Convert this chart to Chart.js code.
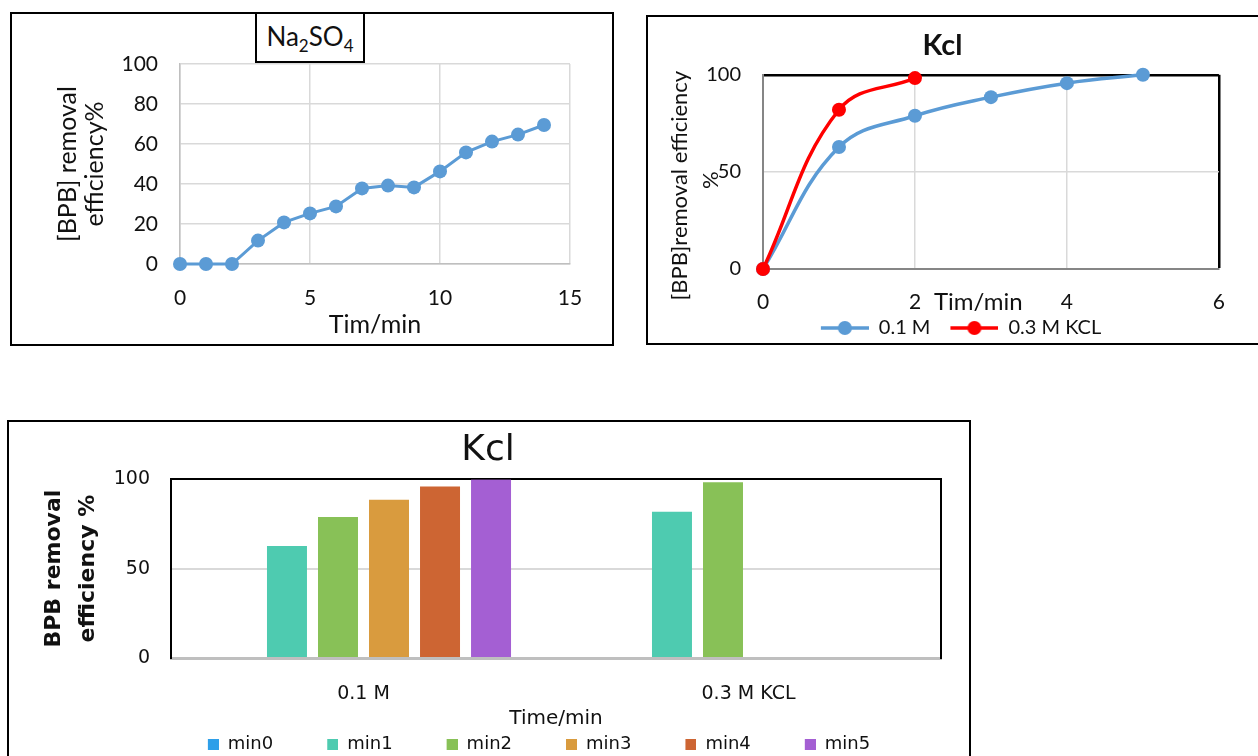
<!DOCTYPE html>
<html>
<head>
<meta charset="utf-8">
<script src="https://cdn.jsdelivr.net/npm/chart.js@4.4.1/dist/chart.umd.min.js"></script>
<style>
  html, body { margin: 0; padding: 0; background: #fff; }
  body { width: 1258px; height: 756px; overflow: hidden; position: relative; font-family: Lato, sans-serif; color: #111; }
  .box { position: absolute; border: 2px solid #000; box-sizing: border-box; overflow: hidden; background: #fff; }
  .inner { position: relative; }
  #box1 { left: 10px; top: 12px; width: 604px; height: 334px; }
  #box2 { left: 646px; top: 15px; width: 640px; height: 330px; }
  #box3 { left: 7px; top: 420px; width: 964px; height: 345px; }
  #title1 { position: absolute; left: 255px; top: 12px; width: 110px; height: 51px; border: 2px solid #000;
            box-sizing: border-box; background: #fff; font: 26px Lato; text-align: center; line-height: 44px; }
  #title1 sub { font-size: 17px; }
  #xlabel2 { position: absolute; left: 934px; top: 286px; font: 24px Lato; }
</style>
</head>
<body>
<div class="box" id="box1"><div class="inner" style="width:600px;height:330px"><canvas id="naChart"></canvas></div></div>
<div id="title1">Na<sub>2</sub>SO<sub>4</sub></div>
<div class="box" id="box2"><div class="inner" style="width:598px;height:326px"><canvas id="kclLineChart"></canvas></div></div>
<div id="xlabel2">Tim/min</div>
<div class="box" id="box3"><div class="inner" style="width:960px;height:341px"><canvas id="kclBarChart"></canvas></div></div>

<script>
// Na2SO4 run
const naTimes = [0, 1, 2, 3, 4, 5, 6, 7, 8, 9, 10, 11, 12, 13, 14];
const naRemoval = [0, 0, 0, 11.7, 20.8, 25.3, 28.8, 37.8, 39.2, 38.3, 46.3, 55.8, 61.2, 64.7, 69.5];

// KCl runs
const kcl01Times = [0, 1, 2, 3, 4, 5];
const kcl01Removal = [0, 62.8, 78.9, 88.5, 95.7, 100];
const kcl03Times = [0, 1, 2];
const kcl03Removal = [0, 82, 98.3];

// bar chart
const barGroups = ["0.1 M", "0.3 M KCL"];
const barSeries = ["min0", "min1", "min2", "min3", "min4", "min5"];
const barValues = [
    [0, 0],
    [62.6, 81.8],
    [78.9, 98.3],
    [88.5, null],
    [95.9, null],
    [99.8, null]];

const blue = "#5b9bd5";
const red = "#ff0000";
const barColors = ["#2e9fe9", "#4ecbb0", "#88c157", "#d99b3e", "#cd6533", "#a45fd3"];
const lightGrid = "#d9d9d9";

Chart.defaults.font.family = "Lato";
Chart.defaults.color = "#111";
Chart.defaults.animation = false;

// move the legend a bit after layout
Chart.register({
    id: "nudgeLegend",
    afterLayout(chart, args, opts) {
        const lg = chart.legend;
        if (!lg) return;
        const dx = opts.dx || 0, dy = opts.dy || 0;
        lg.left += dx; lg.right += dx;
        lg.top += dy; lg.bottom += dy;
    }
});

function pairs(xs, ys) {
    return xs.map((x, i) => ({x: x, y: ys[i]}));
}

// legend marks: transparent lead-in on the left, mark on the right
function lineSwatch(color, w) {
    const c = document.createElement("canvas");
    c.width = w; c.height = 16;
    const g = c.getContext("2d");
    g.strokeStyle = color; g.lineWidth = 3.5;
    g.beginPath(); g.moveTo(w - 48, 8); g.lineTo(w, 8); g.stroke();
    g.fillStyle = color;
    g.beginPath(); g.arc(w - 24, 8, 7, 0, Math.PI * 2); g.fill();
    return c;
}

function squareSwatch(color, w) {
    const c = document.createElement("canvas");
    c.width = w; c.height = 11;
    const g = c.getContext("2d");
    g.fillStyle = color;
    g.fillRect(w - 11, 0, 11, 11);
    return c;
}

createCharts();

function createCharts() {
    new Chart("naChart", {
        type: "line",
        data: {
            datasets: [{
                data: pairs(naTimes, naRemoval),
                borderColor: blue,
                backgroundColor: blue,
                borderWidth: 3,
                pointRadius: 7,
                pointBorderWidth: 0,
                tension: 0,
                clip: false
            }]
        },
        options: {
            responsive: true,
            maintainAspectRatio: false,
            layout: {padding: {left: 40, right: 42, top: 50, bottom: 4}},
            plugins: {legend: {display: false}, tooltip: {enabled: false}},
            scales: {
                x: {
                    type: "linear", min: 0, max: 15,
                    ticks: {stepSize: 5, padding: 22, font: {size: 21}},
                    grid: {color: lightGrid, lineWidth: 1.5, drawTicks: false},
                    border: {color: "#bfbfbf", width: 1.5},
                    title: {display: true, text: "Tim/min", font: {size: 25}, padding: 0},
                    afterFit: s => { s.height = 76; }
                },
                y: {
                    min: 0, max: 100,
                    ticks: {stepSize: 20, padding: 22, font: {size: 21}},
                    grid: {color: lightGrid, lineWidth: 1.5, drawTicks: false},
                    border: {color: "#bfbfbf", width: 1.5},
                    title: {display: true, text: ["[BPB] removal", "efficiency%"],
                            font: {size: 25, lineHeight: 1.08}, padding: {top: 2, bottom: 0}},
                    afterFit: s => { s.width = 128; }
                }
            }
        }
    });

    const lineMarks = [lineSwatch(blue, 65), lineSwatch(red, 65)];
    new Chart("kclLineChart", {
        type: "line",
        data: {
            datasets: [{
                label: "0.1 M",
                data: pairs(kcl01Times, kcl01Removal),
                borderColor: blue,
                backgroundColor: blue,
                borderWidth: 3.5,
                pointRadius: 7,
                pointBorderWidth: 0,
                tension: 0.4,
                clip: false,
                order: 1
            }, {
                label: "0.3 M KCL",
                data: pairs(kcl03Times, kcl03Removal),
                borderColor: red,
                backgroundColor: red,
                borderWidth: 3.5,
                pointRadius: 7,
                pointBorderWidth: 0,
                tension: 0.4,
                clip: false,
                order: 0
            }]
        },
        options: {
            responsive: true,
            maintainAspectRatio: false,
            layout: {padding: {left: 14, right: 23, top: 0, bottom: 0}},
            plugins: {
                tooltip: {enabled: false},
                title: {display: true, text: "Kcl", font: {size: 29, weight: "bold"}, padding: {top: 11, bottom: 12}},
                legend: {
                    position: "bottom",
                    maxHeight: 30,
                    labels: {
                        usePointStyle: true,
                        pointStyleWidth: 65,
                        padding: 3,
                        font: {size: 20},
                        sort: (a, b) => a.datasetIndex - b.datasetIndex,
                        generateLabels: chart => Chart.defaults.plugins.legend.labels.generateLabels(chart)
                            .map(item => Object.assign(item, {pointStyle: lineMarks[item.datasetIndex]}))
                    }
                },
                nudgeLegend: {dx: 10, dy: 2}
            },
            scales: {
                x: {
                    type: "linear", min: 0, max: 6,
                    ticks: {stepSize: 2, padding: 21, font: {size: 21}},
                    grid: {
                        drawTicks: false, lineWidth: c => c.tick.value === 6 ? 2.5 : 1.5,
                        color: c => c.tick.value === 6 ? "#000" : (c.tick.value === 0 ? "rgba(0,0,0,0)" : lightGrid)
                    },
                    border: {color: "#868686", width: 2},
                    afterFit: s => { s.height = 44; }
                },
                y: {
                    min: 0, max: 100,
                    ticks: {stepSize: 50, padding: 22, font: {size: 20}},
                    grid: {
                        drawTicks: false, lineWidth: c => c.tick.value === 100 ? 2.5 : 1.5,
                        color: c => c.tick.value === 100 ? "#000" : (c.tick.value === 0 ? "rgba(0,0,0,0)" : lightGrid)
                    },
                    border: {color: "#868686", width: 2},
                    // trailing spaces push the title a little lower, as in the original
                    title: {display: true, text: ["[BPB]removal efficiency\u2003\u2002", "%\u2003"],
                            font: {size: 22, lineHeight: 1.41}, padding: {top: 2, bottom: 0}},
                    afterFit: s => { s.width = 101; }
                }
            }
        }
    });

    const barMarks = barColors.map(c => squareSwatch(c, 61));
    new Chart("kclBarChart", {
        type: "bar",
        data: {
            labels: barGroups,
            datasets: barSeries.map((name, i) => ({
                label: name,
                data: barValues[i],
                backgroundColor: barColors[i],
                categoryPercentage: 0.795,
                barPercentage: 0.784
            }))
        },
        options: {
            responsive: true,
            maintainAspectRatio: false,
            layout: {padding: {left: 26, right: 28, top: 0, bottom: 0}},
            plugins: {
                tooltip: {enabled: false},
                title: {display: true, text: "Kcl", font: {family: "DejaVu Sans", size: 36, weight: "normal"},
                        padding: {top: 7, bottom: 7}},
                legend: {
                    position: "bottom",
                    labels: {
                        usePointStyle: true,
                        pointStyleWidth: 61,
                        padding: 4,
                        font: {family: "DejaVu Sans", size: 18},
                        generateLabels: chart => Chart.defaults.plugins.legend.labels.generateLabels(chart)
                            .map(item => Object.assign(item, {pointStyle: barMarks[item.datasetIndex]}))
                    }
                },
                nudgeLegend: {dx: 26, dy: 0}
            },
            scales: {
                x: {
                    ticks: {padding: 17, font: {family: "DejaVu Sans", size: 19}},
                    grid: {display: false},
                    border: {color: "#bfbfbf", width: 3},
                    title: {display: true, text: "Time/min", font: {family: "DejaVu Sans", size: 20}, padding: 0},
                    afterFit: s => { s.height = 73; }
                },
                y: {
                    min: 0, max: 100,
                    ticks: {stepSize: 50, padding: 21, font: {family: "DejaVu Sans", size: 19}},
                    grid: {
                        drawTicks: false, lineWidth: 2,
                        color: c => c.tick.value === 100 ? "#000" : (c.tick.value === 0 ? "rgba(0,0,0,0)" : lightGrid)
                    },
                    border: {color: "#000", width: 2},
                    title: {display: true, text: ["BPB removal", "efficiency %"],
                            font: {family: "DejaVu Sans", size: 22, weight: "bold", lineHeight: 1.55},
                            padding: {top: 2, bottom: 0}},
                    afterFit: s => { s.width = 136; }
                },
                y2: {
                    position: "right",
                    ticks: {display: false},
                    grid: {display: false},
                    border: {color: "#000", width: 2},
                    afterFit: s => { s.width = 0; }
                }
            }
        }
    });
}
</script>
</body>
</html>
